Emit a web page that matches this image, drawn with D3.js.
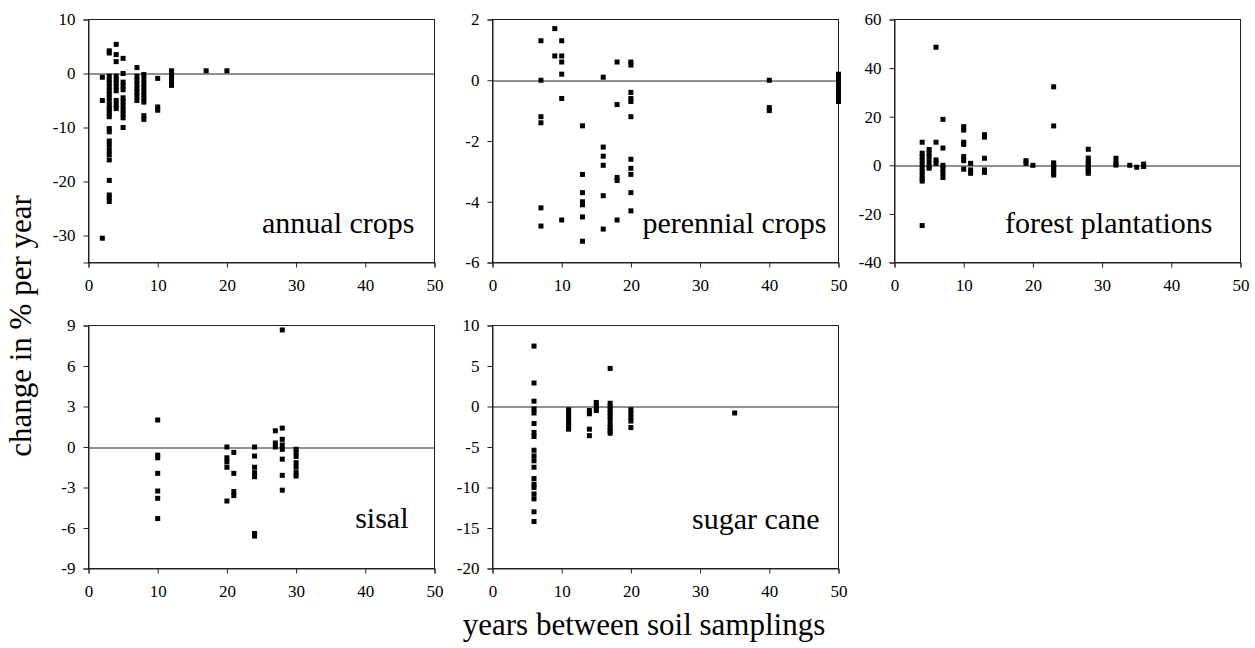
<!DOCTYPE html>
<html>
<head>
<meta charset="utf-8">
<script src="https://cdn.jsdelivr.net/npm/d3@7"></script>
<style>
  body { margin: 0; background: #fff; }
</style>
</head>
<body>
<div id="chart"></div>
<script>
// [years between samplings, change in % per year]
const annualCrops = [
  [2, -0.7], [2, -5.0], [2, -30.5],
  [3, 4.2], [3, 3.8], [3, -0.5], [3, -1.2], [3, -1.8], [3, -2.5], [3, -3.2], [3, -3.8], [3, -4.5],
  [3, -5.2], [3, -6], [3, -6.5], [3, -7], [3, -7.5], [3, -8], [3, -10.2], [3, -10.8], [3, -12.5],
  [3, -13.3], [3, -14.2], [3, -15], [3, -16], [3, -19.8], [3, -22.5], [3, -23], [3, -23.7],
  [4, 5.4], [4, 3.5], [4, 2.2], [4, -0.5], [4, -1.2], [4, -1.8], [4, -2.5], [4, -3.2], [4, -5], [4, -5.8], [4, -6.5],
  [5, 2.8], [5, 0], [5, -1.6], [5, -2.3], [5, -3], [5, -4.5], [5, -5.2], [5, -6], [5, -6.8], [5, -7.5], [5, -8.2], [5, -10],
  [7, 1.1], [7, -0.5], [7, -1.3], [7, -2], [7, -2.8], [7, -3.5], [7, -4.2], [7, -5],
  [8, -0.2], [8, -1], [8, -1.8], [8, -2.5], [8, -3.3], [8, -4], [8, -4.7], [8, -5.3], [8, -7.8], [8, -8.5],
  [10, -0.9], [10, -6.2], [10, -6.8],
  [12, 0.5], [12, -0.2], [12, -0.8], [12, -1.5], [12, -2.2],
  [17, 0.5], [20, 0.5]
];
const perennialCrops = [
  [7, 1.3], [7, 0], [7, -1.2], [7, -1.4], [7, -4.2], [7, -4.8],
  [9, 1.7], [9, 0.8],
  [10, 1.3], [10, 0.8], [10, 0.6], [10, 0.2], [10, -0.6], [10, -4.6],
  [13, -1.5], [13, -3.1], [13, -3.7], [13, -4.0], [13, -4.1], [13, -4.5], [13, -5.3],
  [16, 0.1], [16, -2.2], [16, -2.5], [16, -2.8], [16, -3.8], [16, -4.9],
  [18, 0.6], [18, -0.8], [18, -3.2], [18, -3.3], [18, -4.6],
  [20, 0.6], [20, 0.5], [20, -0.4], [20, -0.6], [20, -0.7], [20, -1.2], [20, -2.6], [20, -2.9],
  [20, -3.1], [20, -3.7], [20, -4.3],
  [40, 0], [40, -0.9], [40, -1.0],
  [50, 0.2], [50, 0.1], [50, 0], [50, -0.1], [50, -0.2], [50, -0.3], [50, -0.4], [50, -0.5], [50, -0.6], [50, -0.7]
];
const forestPlantations = [
  [4, 9.5], [4, 5], [4, 3.5], [4, 2], [4, 0.5], [4, -1], [4, -2.5], [4, -4], [4, -5.5], [4, -6.5], [4, -24.8],
  [5, 6.5], [5, 5], [5, 3.5], [5, 1.5], [5, -0.5], [5, -1.2],
  [6, 48.6], [6, 9.5], [6, 2.2], [6, 0.8],
  [7, 18.9], [7, 7.1], [7, 0], [7, -1.5], [7, -3], [7, -5],
  [10, 15.9], [10, 14.5], [10, 9.5], [10, 8.6], [10, 3.6], [10, 1.9], [10, -1.6],
  [11, 0.8], [11, -1.9], [11, -3.3],
  [13, 12.6], [13, 11.6], [13, 2.9], [13, -1.9], [13, -2.9],
  [19, 1.9], [19, 0.8], [20, 0],
  [23, 32.3], [23, 16.2], [23, 1], [23, 0], [23, -1], [23, -2], [23, -3], [23, -4],
  [28, 6.6], [28, 3], [28, 1.5], [28, 0.5], [28, -0.5], [28, -1.5], [28, -2.5], [28, -3.3],
  [32, 2.9], [32, 1.1], [32, 0.1], [34, 0], [35, -0.8], [36, 0.5], [36, -0.5]
];
const sisal = [
  [10, 2.0], [10, -0.6], [10, -0.8], [10, -1.95], [10, -3.26], [10, -3.8], [10, -5.3],
  [20, 0], [20, -0.8], [20, -1.1], [20, -1.5], [20, -4.0],
  [21, -0.4], [21, -1.95], [21, -3.3], [21, -3.6],
  [24, 0], [24, -0.67], [24, -1.5], [24, -1.9], [24, -2.2], [24, -6.4], [24, -6.6],
  [27, 1.2], [27, 0.3], [27, 0],
  [28, 8.67], [28, 1.4], [28, 0.57], [28, 0.15], [28, -0.17], [28, -0.9], [28, -2.1], [28, -3.2],
  [30, -0.17], [30, -0.4], [30, -0.7], [30, -1.16], [30, -1.5], [30, -1.9], [30, -2.15]
];
const sugarCane = [
  [6, 7.46], [6, 2.9], [6, 0.66], [6, -0.3], [6, -0.8], [6, -2.1], [6, -3.2], [6, -3.7], [6, -5.4],
  [6, -6.1], [6, -6.7], [6, -7.5], [6, -8.9], [6, -9.6], [6, -10], [6, -10.8], [6, -11.4], [6, -13], [6, -14.2],
  [11, -0.4], [11, -0.8], [11, -1.2], [11, -1.6], [11, -2.0], [11, -2.4], [11, -2.8],
  [14, -0.5], [14, -0.9], [14, -2.8], [14, -3.6],
  [15, 0.5], [15, 0.1], [15, -0.2], [15, -0.5],
  [17, 4.7], [17, 0.4], [17, 0], [17, -0.4], [17, -0.8], [17, -1.2], [17, -1.6], [17, -2.2], [17, -2.6], [17, -3.0], [17, -3.3],
  [20, -0.4], [20, -0.9], [20, -1.4], [20, -1.8], [20, -2.6],
  [35, -0.8]
];

const panelNames = ["annual crops", "perennial crops", "forest plantations", "sisal", "sugar cane"];
const panelData = [annualCrops, perennialCrops, forestPlantations, sisal, sugarCane];
const yDomains = [[-35, 10], [-6, 2], [-40, 60], [-9, 9], [-20, 10]];
const yTicks = [
  [-30, -20, -10, 0, 10],
  [-6, -4, -2, 0, 2],
  [-40, -20, 0, 20, 40, 60],
  [-9, -6, -3, 0, 3, 6, 9],
  [-20, -15, -10, -5, 0, 5, 10]
];
const xTicks = [0, 10, 20, 30, 40, 50];

const W = 1255, H = 648;
const pw = 346, ph = 243;
const serif = "'Liberation Serif', 'Times New Roman', 'DejaVu Serif', serif";
// panel top-left corners, and label offsets from the bottom-right corner
const origins = [[88.5, 19.5], [492.5, 19.5], [894.5, 19.5], [88.5, 325.5], [492.5, 325.5]];
const labelOffsets = [[20, 30], [12, 30], [28, 30], [26, 41], [19, 40]];

const svg = d3.select("#chart").append("svg")
  .attr("width", W)
  .attr("height", H)
  .attr("font-family", serif);

panelData.forEach((pts, i) => {
  const [ox, oy] = origins[i];
  const g = svg.append("g").attr("transform", `translate(${ox},${oy})`);

  const x = d3.scaleLinear().domain([0, 50]).range([0, pw]);
  const y = d3.scaleLinear().domain(yDomains[i]).range([ph, 0]);

  // frame
  g.append("rect")
    .attr("width", pw).attr("height", ph)
    .attr("fill", "none").attr("stroke", "#222").attr("stroke-width", 1);

  // zero line
  g.append("line")
    .attr("x1", 0).attr("x2", pw)
    .attr("y1", Math.round(y(0)) + 0.5).attr("y2", Math.round(y(0)) + 0.5)
    .attr("stroke", "#222").attr("stroke-width", 1);

  const fmt = d => String(d); // plain hyphen minus like the original
  const xAxis = g.append("g")
    .attr("transform", `translate(0,${ph})`)
    .call(d3.axisBottom(x).tickValues(xTicks).tickSize(5).tickPadding(11).tickFormat(fmt));
  const yAxis = g.append("g")
    .call(d3.axisLeft(y).tickValues(yTicks[i]).tickSize(5).tickPadding(8).tickFormat(fmt));

  [xAxis, yAxis].forEach(a => {
    a.attr("font-family", serif).attr("font-size", 17);
    a.select(".domain").attr("stroke", "#222");
    a.selectAll(".tick line").attr("stroke", "#222");
    a.selectAll(".tick text").attr("fill", "#000");
  });

  // markers
  g.selectAll("rect.pt")
    .data(pts)
    .enter().append("rect")
    .attr("class", "pt")
    .attr("x", d => x(d[0]) - 2.5)
    .attr("y", d => y(d[1]) - 2.5)
    .attr("width", 5)
    .attr("height", 5)
    .attr("fill", "#000");

  // panel label
  g.append("text")
    .attr("x", pw - labelOffsets[i][0])
    .attr("y", ph - labelOffsets[i][1])
    .attr("text-anchor", "end")
    .attr("font-size", 30)
    .text(panelNames[i]);
});

// axis titles
svg.append("text")
  .attr("transform", "translate(31,326) rotate(-90)")
  .attr("text-anchor", "middle")
  .attr("font-size", 31)
  .text("change in % per year");

svg.append("text")
  .attr("x", 644)
  .attr("y", 635)
  .attr("text-anchor", "middle")
  .attr("font-size", 31)
  .text("years between soil samplings");
</script>
</body>
</html>
